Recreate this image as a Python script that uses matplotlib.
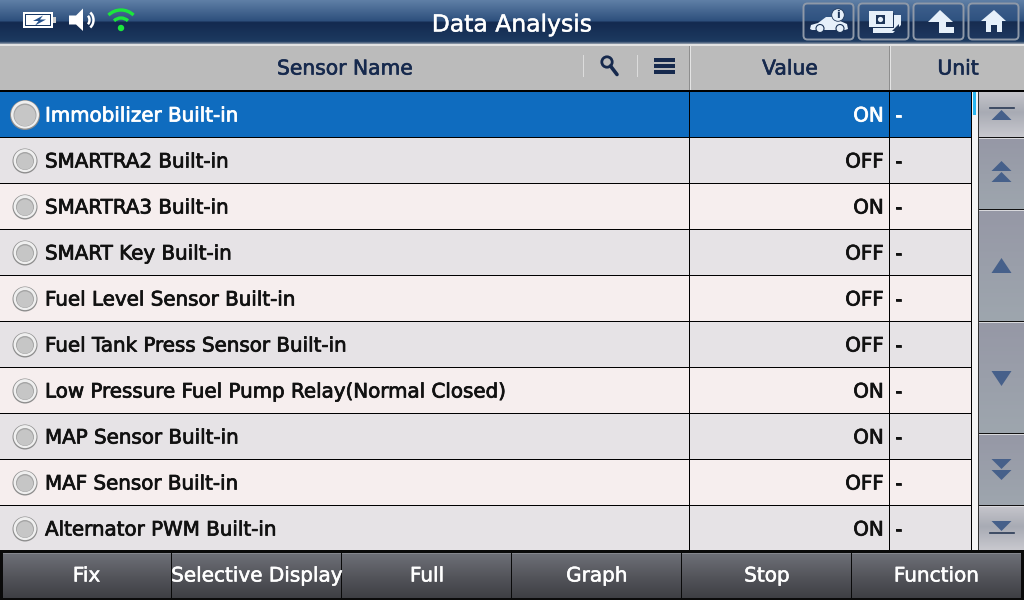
import numpy as np
import matplotlib
matplotlib.use("Agg")
import matplotlib.pyplot as plt
from matplotlib.patches import Rectangle, Circle, Polygon, FancyBboxPatch, Arc
import matplotlib.patheffects as pe

sensor_names = ["Immobilizer Built-in", "SMARTRA2 Built-in", "SMARTRA3 Built-in", "SMART Key Built-in",
                "Fuel Level Sensor Built-in", "Fuel Tank Press Sensor Built-in",
                "Low Pressure Fuel Pump Relay(Normal Closed)", "MAP Sensor Built-in",
                "MAF Sensor Built-in", "Alternator PWM Built-in"]
values = ["ON", "OFF", "ON", "OFF", "OFF", "OFF", "ON", "ON", "OFF", "ON"]
units = ["-"] * 10
row_colors = ["#0F6CBF", "#E6E3E6", "#F6EEEE", "#E6E3E6", "#F6EEEE", "#E6E3E6",
              "#F6EEEE", "#E6E3E6", "#F6EEEE", "#E6E3E6"]
column_titles = ["Sensor Name", "Value", "Unit"]
footer_labels = ["Fix", "Selective Display", "Full", "Graph", "Stop", "Function"]
title = "Data Analysis"

fig = plt.figure(figsize=(10.24, 6.0), dpi=100)
ax = fig.add_axes([0, 0, 1, 1])
plt.rcParams["font.family"] = "DejaVu Sans"

def grad(x0, x1, y0, y1, stops, z=1):
    ys = np.linspace(0, 1, 64)
    rgb = np.array([matplotlib.colors.to_rgb(c) for _, c in stops])
    pos = [p for p, _ in stops]
    im = np.stack([np.interp(ys, pos, rgb[:, i]) for i in range(3)], axis=1)[:, None, :]
    ax.imshow(im, extent=(x0, x1, y1, y0), aspect="auto", zorder=z, interpolation="bilinear")

def rect(x0, y0, x1, y1, c, z=2, **k):
    ax.add_patch(Rectangle((x0, y0), x1 - x0, y1 - y0, fc=c, ec="none", zorder=z, **k))

def label(x, y, s, color, size, ha="left", stroke=0.35, z=8):
    ax.text(x, y, s, color=color, fontsize=size, ha=ha, va="center", zorder=z,
            path_effects=[pe.withStroke(linewidth=stroke, foreground=color)])

# title bar
grad(0, 1024, 0, 44, [(0, "#5F7FA6"), (0.48, "#2D4F7C"), (0.5, "#13294F"), (0.95, "#1D3A60"), (1, "#8C98A8")])
label(512, 25, title, "white", 16.9, ha="center", stroke=0.3)

# status icons
rect(23, 12, 53, 28, "white", 5)
rect(25, 14, 51, 26, "#1A3A66", 5)
rect(26, 15, 50, 25, "white", 5)
rect(53, 17, 56, 23, "#D0D0D0", 5)
ax.add_patch(Polygon([[33, 21], [43, 15.5], [40, 19.5], [46, 19.5], [35, 25.5], [38.5, 21]], fc="#24508A", ec="none", zorder=6))
ax.add_patch(Polygon([[69, 15.5], [76, 15.5], [83, 8.5], [83, 31], [76, 24.5], [69, 24.5]], fc="white", zorder=5))
for w in (9, 17):
    ax.add_patch(Arc((85, 20), w, w + 2, theta1=-55, theta2=55, ec="white", lw=1.8, zorder=5))
ax.add_patch(Circle((121, 28), 3.2, fc="#1BE63C", ec="none", zorder=5))
for w in (20, 36):
    ax.add_patch(Arc((121, 28), w, w, theta1=226, theta2=314, ec="#1BE63C", lw=2.4, zorder=5))

# top right buttons
for x0, x1 in [(803, 854), (858, 909), (913, 964), (968, 1019)]:
    ax.add_patch(FancyBboxPatch((x0 + 0.5, 3.5), x1 - x0 - 1, 36, boxstyle="round,pad=0,rounding_size=4",
                                fc="none", ec="#8F99A8", lw=1.4, zorder=5))
    grad(x0 + 1, x1 - 1, 4, 39, [(0, "#3E5F8C"), (0.48, "#2E5280"), (0.5, "#172C50"), (1, "#1E3860")], 4)
ic = "#E6F0FA"
ax.add_patch(Polygon([[810, 29], [811, 25], [818, 23], [826, 17], [834, 17], [840, 21], [847, 24], [848, 29], [845, 30], [812, 30]], fc=ic, ec="none", zorder=5))
for x in (820, 840):
    ax.add_patch(Circle((x, 28.5), 4, fc=ic, ec="#1D3558", lw=0.8, zorder=6))
ax.add_patch(Circle((838, 15), 6.3, fc=ic, ec="#1D3558", lw=0.6, zorder=6))
ax.text(838, 15, "i", color="#1D3558", fontsize=8, fontweight="bold", ha="center", va="center", zorder=7)
ax.add_patch(Polygon([[873, 15], [901, 15], [901, 25], [893, 33], [873, 33]], fc=ic, ec="none", zorder=5))
rect(870, 13, 894, 28, "#1D3558", 5)
rect(869, 11, 893, 27, ic, 6)
rect(876, 15, 885, 24, "#1D3558", 7)
ax.add_patch(Circle((880.5, 19.5), 2.6, fc=ic, ec="none", zorder=8))
ax.add_patch(Polygon([[892, 31], [899, 31], [899, 24]], fc="#1D3558", ec="none", zorder=7))
ax.add_patch(Polygon([[940, 10], [953, 22], [946, 22], [946, 27], [954, 27], [954, 33], [939, 33], [939, 22], [928, 22]], fc=ic, ec="none", zorder=5))
ax.add_patch(Polygon([[994, 10], [1006, 21], [1002, 21], [1002, 32], [997, 32], [997, 25], [991, 25], [991, 32], [986, 32], [986, 21], [981, 21]], fc=ic, ec="none", zorder=5))

# header
rect(0, 44, 1024, 91, "#BBBBBB", 2)
rect(0, 44, 1024, 46, "#E2E2E2", 3)
rect(0, 90, 1024, 92, "#000000", 6)
rect(689, 46, 690, 90, "#8E8E8E", 4); rect(690, 46, 691, 90, "#E4E4E4", 4)
rect(889, 46, 890, 90, "#8E8E8E", 4); rect(890, 46, 891, 90, "#E4E4E4", 4)
rect(583, 55, 584, 77, "#DCDCDC", 4); rect(637, 55, 638, 77, "#DCDCDC", 4)
head_c = "#16294D"
for x, s in zip((345, 790, 958), column_titles):
    label(x, 69, s, head_c, 14.6, ha="center", stroke=0.45)
ax.add_patch(Circle((607, 62), 5.2, fc="none", ec=head_c, lw=2, zorder=5))
ax.plot([610.5, 617], [66, 74.5], color=head_c, lw=2.6, zorder=5, solid_capstyle="round")
for y in (60, 66, 72):
    rect(654, y - 1.6, 675, y + 1.6, head_c, 5)

# table rows
row_top = 92
row_h = 46
n = len(sensor_names)
for i, (name, val, unit, col) in enumerate(zip(sensor_names, values, units, row_colors)):
    y0 = row_top + i * row_h
    y1 = min(y0 + row_h, 550)
    yc = y0 + 23
    rect(0, y0, 972, y1, col, 2)
    if i < n - 1:
        rect(0, y1 - 1, 972, y1, "#000000", 5)
    fc = "white" if i == 0 else "#111111"
    label(45, yc + 1, name, fc, 14.3, stroke=0.55)
    label(884, yc + 1, val, fc, 14.3, ha="right", stroke=0.55)
    label(895, yc + 1, unit, fc, 14.3, stroke=0.55)
    r = 15 if i == 0 else 12.5
    ax.add_patch(Circle((25, yc), r, fc="#8E8E8E", ec="none", zorder=6))
    ax.add_patch(Circle((25, yc - 0.4), r - 1, fc="#EFEFEF", ec="none", zorder=6))
    ax.add_patch(Circle((25, yc), r - 3.5, fc="#A4A4A4", ec="none", zorder=7))
    ax.add_patch(Circle((25, yc + 0.5), r - 4.4, fc="#C6C6C6", ec="none", zorder=7))
rect(689, 92, 690, 550, "#000000", 5)
rect(889, 92, 890, 550, "#000000", 5)

# scrollbar
rect(972, 92, 978, 550, "#F4F4F4", 3)
rect(973, 92, 976, 115, "#29B6F0", 4)
rect(971, 92, 972, 550, "#000000", 5)
rect(978, 92, 979, 550, "#333333", 5)
light = [(0, "#C4C4CA"), (0.45, "#A8ABB4"), (1, "#C8C8CE")]
plain = [(0, "#9698A6"), (1, "#9EA6AE")]
for y0, y1, st in [(92, 137, light), (139, 209, plain), (211, 321, plain),
                   (323, 433, plain), (435, 505, plain), (507, 550, light)]:
    grad(979, 1024, y0, y1, st, 3)
for y in (137, 209, 321, 433, 505):
    rect(978, y, 1024, y + 1, "#111111", 4)
    rect(979, y + 1, 1024, y + 2, "#D8D8DC", 4)
tri = "#46608A"
def up(xc, y, w=10, h=14):
    ax.add_patch(Polygon([[xc - w, y + h], [xc + w, y + h], [xc, y]], fc=tri, ec="none", zorder=6))
def down(xc, y, w=10, h=14):
    ax.add_patch(Polygon([[xc - w, y], [xc + w, y], [xc, y + h]], fc=tri, ec="none", zorder=6))
xc = 1001.5
ax.plot([990, 1014], [107.5, 107.5], color="#2A3A55", lw=1.2, zorder=6); up(xc, 110, h=10)
up(xc, 161, h=10); up(xc, 172, h=10)
up(xc, 258, h=15)
down(xc, 371, h=15)
down(xc, 459, h=10); down(xc, 470, h=10)
down(xc, 521, h=10); ax.plot([990, 1014], [532.5, 532.5], color="#2A3A55", lw=1.2, zorder=6)

# footer
rect(0, 550, 1024, 600, "#0A0A0A", 2)
edges = [3, 172, 342, 512, 682, 852, 1021]
for i, s in enumerate(footer_labels):
    x0, x1 = edges[i], edges[i + 1] - (0 if i == 5 else 1)
    grad(x0, x1, 553, 598, [(0, "#6E7078"), (0.5, "#55565C"), (1, "#3E3F44")], 3)
    rect(x0, 553, x1, 554, "#85878E", 4)
    label((edges[i] + edges[i + 1]) / 2 - (1 if i == 0 else 0), 576, s, "white", 14.4, ha="center", stroke=0.4)

ax.set_xlim(0, 1024); ax.set_ylim(600, 0); ax.axis("off")
fig.savefig("out.png", dpi=100)
